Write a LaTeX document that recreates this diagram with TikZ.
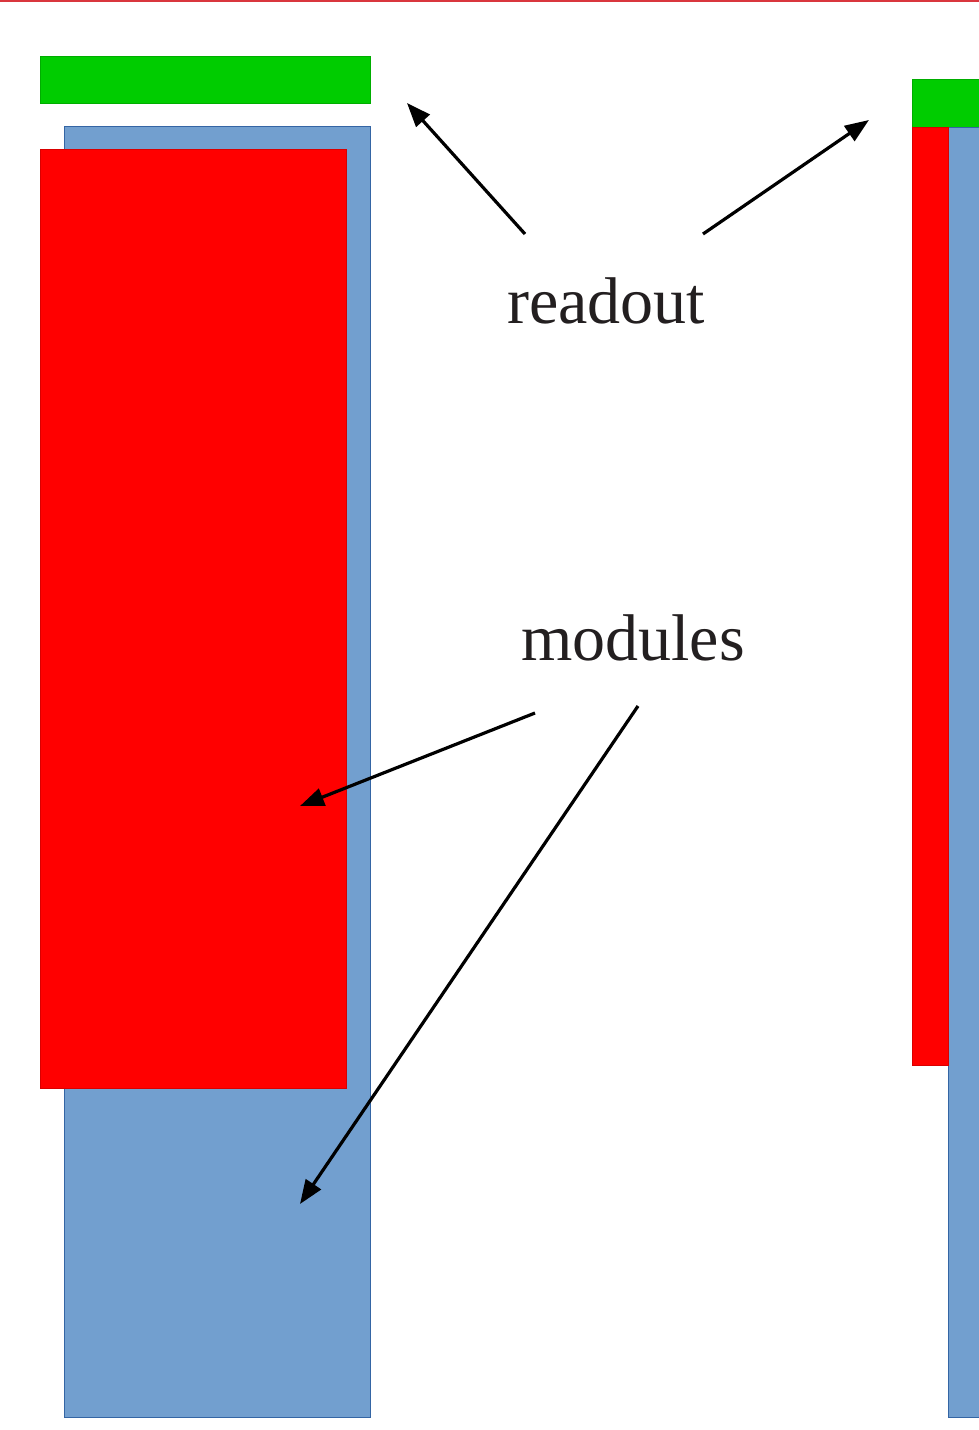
\documentclass[tikz,border=0pt]{standalone}
\usepackage{fontspec}
\setmainfont{Liberation Serif}
\usetikzlibrary{arrows.meta}
\definecolor{modblue}{HTML}{729FCF}
\definecolor{modedge}{HTML}{3465A4}
\definecolor{roGreen}{HTML}{00CC00}
\definecolor{modred}{HTML}{FF0000}
\definecolor{topline}{HTML}{D9363E}
\definecolor{labelgray}{HTML}{231F20}
\tikzset{
  bluebox/.style={fill=modblue, draw=modedge, line width=1pt},
  redbox/.style={fill=modred, draw=modred!85!black, line width=0.6pt},
  greenbox/.style={fill=roGreen, draw=roGreen!85!black, line width=0.6pt},
  pointer/.style={line width=3.2pt, -{Triangle[length=24pt,width=18pt]}},
  lbl/.style={font=\fontsize{66}{70}\selectfont, text=labelgray, anchor=base, inner sep=0pt}
}
\begin{document}
\begin{tikzpicture}[x=1pt,y=-1pt]
  \useasboundingbox (0,0) rectangle (979,1430);
  \fill[white] (0,0) rectangle (979,1430);
  % thin rule along the top edge
  \fill[topline] (0,0) rectangle (979,2);

  % left stack: readout strip, module plate and active area
  \draw[greenbox] (40,56) rectangle (370,103);
  \draw[bluebox] (64,126) rectangle (370,1417);
  \draw[redbox] (40,149) rectangle (346,1088);

  % right stack seen edge-on
  \draw[greenbox] (912,79) rectangle (985,127);
  \draw[bluebox] (948,127) rectangle (985,1417);
  \draw[redbox] (912,127) rectangle (948,1065);

  % labels
  \node[lbl] (readout) at (606,323) {readout};
  \node[lbl] (modules) at (633,660) {modules};

  % pointer ends
  \coordinate (roL0) at (525,234);
  \coordinate (roL1) at (407,103);
  \coordinate (roR0) at (703,234);
  \coordinate (roR1) at (869,120);
  \coordinate (mdA0) at (535,713);
  \coordinate (mdA1) at (300,806);
  \coordinate (mdB0) at (638,706);
  \coordinate (mdB1) at (300,1204);

  \draw[pointer] (roL0) -- (roL1);
  \draw[pointer] (roR0) -- (roR1);
  \draw[pointer] (mdA0) -- (mdA1);
  \draw[pointer] (mdB0) -- (mdB1);
\end{tikzpicture}
\end{document}
